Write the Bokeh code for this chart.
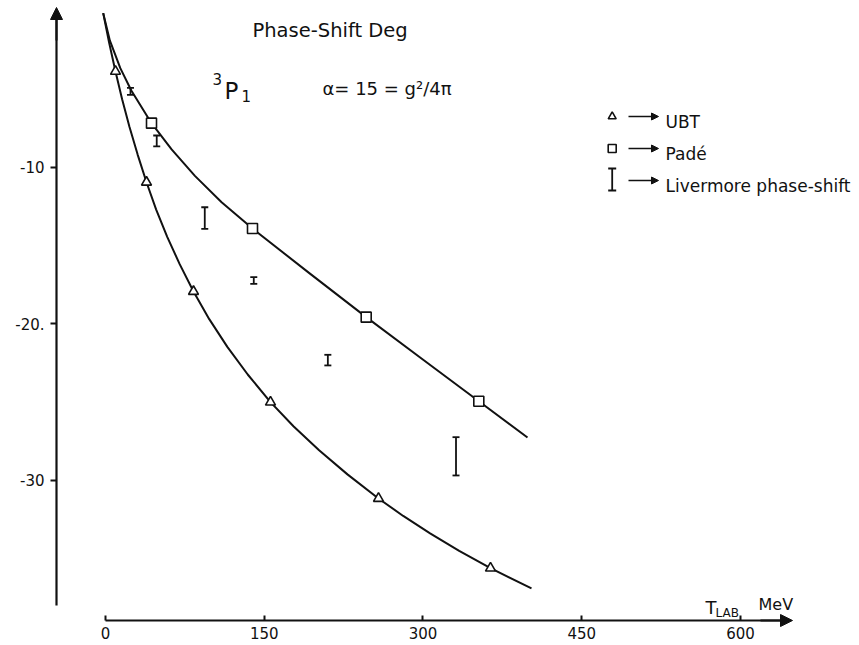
from bokeh.plotting import figure
from bokeh.models import (Range1d, FixedTicker, Arrow, NormalHead, Whisker,
                          TeeHead, ColumnDataSource, Label)
from bokeh.embed import file_html
from bokeh.resources import INLINE

# ---------------- data ----------------
# UBT points (triangles) and the drawn UBT curve
ubt_x = [9.45, 38.74, 83.15, 155.91, 257.96, 363.79]
ubt_y = [-3.86, -10.95, -17.94, -25.02, -31.18, -35.64]
ubt_curve_x = [-2.17, 3.36, 9.45, 15.71, 22.69, 30.37, 38.74, 47.88, 58.32, 70.08,
               83.15, 98.04, 115.13, 134.40, 155.91, 177.60, 201.83, 228.63,
               257.96, 281.31, 306.72, 334.21, 363.79, 402.53]
ubt_curve_y = [-0.13, -2.00, -3.86, -5.64, -7.41, -9.18, -10.95, -12.70, -14.44, -16.19,
               -17.94, -19.71, -21.48, -23.25, -25.02, -26.56, -28.10, -29.64,
               -31.18, -32.30, -33.41, -34.53, -35.64, -36.94]

# Padé points (squares) and the drawn Padé curve
pade_x = [43.47, 138.90, 246.34, 352.74]
pade_y = [-7.17, -13.91, -19.58, -24.96]
pade_curve_x = [-2.17, 4.16, 13.98, 24.38, 43.47, 62.46, 84.48, 109.70, 138.90,
                192.29, 246.34, 299.53, 352.74, 398.75]
pade_curve_y = [-0.13, -1.89, -3.65, -5.08, -7.17, -8.85, -10.54, -12.23, -13.91,
                -16.75, -19.58, -22.27, -24.96, -27.28]

# Livermore phase-shift error bars
liv_x = [23.6, 48.4, 93.8, 140.1, 210.1, 331.2]
liv_lower = [-5.36, -8.66, -13.93, -17.45, -22.67, -29.71]
liv_upper = [-4.91, -7.96, -12.55, -17.02, -21.99, -27.26]

x_ticks = [0, 150, 300, 450, 600]
y_ticks = [-10, -20, -30]
y_tick_labels = ["-10", "-20.", "-30"]

# ---------------- layout helpers (pixel -> data) ----------------
W, H = 859, 645
AXIS_X_PX, AXIS_Y_PX = 56, 620
X0_PX, PX_PER_X = 105.0, 1.0583
Y0_PX, PX_PER_Y = 10.6, 15.63


def fx(px):
    return (px - X0_PX) / PX_PER_X


def fy(py):
    return -(py - Y0_PX) / PX_PER_Y


FONT = "DejaVu Sans"
INK = "#111111"

p = figure(width=W, height=H, output_backend="svg", toolbar_location=None,
           x_range=Range1d(fx(0), fx(W)),
           y_range=Range1d(fy(H), fy(0)),
           min_border=0,
           background_fill_color="white", border_fill_color="white")
p.outline_line_color = None
p.grid.visible = False

# axes (placed at fixed data locations, like the hand-drawn original)
xa = p.xaxis[0]
xa.fixed_location = fy(AXIS_Y_PX)
xa.ticker = FixedTicker(ticks=x_ticks)
xa.bounds = (0, fx(785))
xa.axis_line_width = 2.2
xa.axis_line_color = INK
xa.major_tick_in = 5
xa.major_tick_out = 0
xa.major_tick_line_width = 2
xa.major_tick_line_color = INK
xa.minor_tick_line_color = None
xa.major_label_standoff = 6
xa.major_label_text_font = FONT
xa.major_label_text_font_size = "15px"
xa.major_label_text_color = INK

ya = p.yaxis[0]
ya.fixed_location = fx(AXIS_X_PX)
ya.ticker = FixedTicker(ticks=y_ticks)
ya.major_label_overrides = {t: s for t, s in zip(y_ticks, y_tick_labels)}
ya.bounds = (fy(605), fy(14))
ya.axis_line_width = 2.2
ya.axis_line_color = INK
ya.major_tick_in = 0
ya.major_tick_out = 6
ya.major_tick_line_width = 2
ya.major_tick_line_color = INK
ya.minor_tick_line_color = None
ya.major_label_standoff = 6
ya.major_label_text_font = FONT
ya.major_label_text_font_size = "15px"
ya.major_label_text_color = INK

# axis arrow heads
p.add_layout(Arrow(x_start=fx(AXIS_X_PX), y_start=fy(40), x_end=fx(AXIS_X_PX), y_end=fy(7),
                   line_width=2, line_color=INK,
                   end=NormalHead(size=12, fill_color=INK, line_color=INK)))
p.add_layout(Arrow(x_start=fx(760), y_start=fy(AXIS_Y_PX), x_end=fx(792), y_end=fy(AXIS_Y_PX),
                   line_width=2, line_color=INK,
                   end=NormalHead(size=12, fill_color=INK, line_color=INK)))

# curves
p.line(ubt_curve_x, ubt_curve_y, line_width=2, line_color=INK, line_join="round")
p.line(pade_curve_x, pade_curve_y, line_width=2, line_color=INK, line_join="round")

# markers
p.scatter(ubt_x, ubt_y, marker="triangle", size=10, fill_color="white",
          line_color=INK, line_width=1.6)
p.scatter(pade_x, pade_y, marker="square", size=10, fill_color="white",
          line_color=INK, line_width=1.6)

# Livermore error bars
liv_src = ColumnDataSource(dict(x=liv_x, lower=liv_lower, upper=liv_upper))
p.add_layout(Whisker(source=liv_src, base="x", lower="lower", upper="upper",
                     dimension="height", line_width=1.8, line_color=INK,
                     lower_head=TeeHead(size=7, line_width=1.8, line_color=INK),
                     upper_head=TeeHead(size=7, line_width=1.8, line_color=INK)))


def label(px, py, text, size, **kw):
    p.add_layout(Label(x=fx(px), y=fy(py), text=text, text_font=FONT,
                       text_font_size=size, text_color=INK,
                       text_baseline="alphabetic", text_align="left", **kw))


# titles
label(252, 30, "Phase-Shift Deg", "19.5px")
label(212, 78, "3", "15px")
label(224, 90, "P", "23px")
label(241, 95, "1", "15px")
label(322, 88, "α= 15 = g²/4π", "18px")

# x-axis label
label(705, 607, "T", "18px")
label(715, 612, "LAB", "12px")
label(758, 604, "MeV", "16px")

# legend
LEG_X = 611.7
p.scatter([fx(LEG_X)], [fy(116)], marker="triangle", size=8, fill_color="white",
          line_color=INK, line_width=1.6)
p.scatter([fx(LEG_X)], [fy(148)], marker="square", size=8, fill_color="white",
          line_color=INK, line_width=1.6)
leg_src = ColumnDataSource(dict(x=[fx(LEG_X)], lower=[fy(190)], upper=[fy(168)]))
p.add_layout(Whisker(source=leg_src, base="x", lower="lower", upper="upper",
                     dimension="height", line_width=1.8, line_color=INK,
                     lower_head=TeeHead(size=8, line_width=1.8, line_color=INK),
                     upper_head=TeeHead(size=8, line_width=1.8, line_color=INK)))
for yy in (116, 148, 180):
    p.add_layout(Arrow(x_start=fx(628), y_start=fy(yy), x_end=fx(658), y_end=fy(yy),
                       line_width=1.5, line_color=INK,
                       end=NormalHead(size=7, fill_color=INK, line_color=INK)))
label(665, 121, "UBT", "17px")
label(665, 153, "Padé", "17px")
label(665, 185, "Livermore  phase-shift", "17px")

open("out.html", "w").write(file_html(p, INLINE))
